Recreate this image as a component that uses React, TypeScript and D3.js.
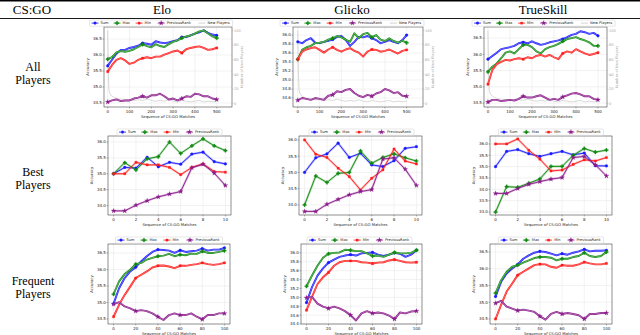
import * as d3 from "d3";

// x positions (match index) for each row
const allMatches = [0, 20, 40, 60, 80, 100, 120, 140, 160, 180, 200, 220, 240, 260, 280, 300, 320, 340, 360, 380, 400, 420, 440, 460, 480, 500];
const bestMatches = [0, 1, 2, 3, 4, 5, 6, 7, 8, 9, 10];
const freqMatches = [0, 5, 10, 15, 20, 25, 30, 35, 40, 45, 50, 55, 60, 65, 70, 75, 80, 85, 90, 95, 100];

const newPlayerMatches = [0, 3, 6, 10, 15, 20, 30, 40, 50, 60, 80, 100, 120, 140, 160, 180, 200, 220, 240, 260, 280, 300, 320, 340, 360, 380, 400, 420, 440, 460, 480, 500];
const newPlayerCounts = [100, 40, 18, 14, 11, 10, 8, 7, 6, 6, 5, 5, 4, 5, 4, 6, 4, 3, 4, 3, 5, 3, 2, 4, 3, 2, 3, 4, 2, 3, 2, 3];

// All players
const eloAllSum = [35.66, 35.85, 36.04, 36.16, 36.16, 36.22, 36.25, 36.29, 36.37, 36.35, 36.32, 36.43, 36.39, 36.37, 36.39, 36.43, 36.46, 36.56, 36.56, 36.61, 36.67, 36.71, 36.77, 36.69, 36.64, 36.61];
const eloAllMax = [35.87, 35.93, 36.08, 36.12, 36.10, 36.13, 36.18, 36.25, 36.33, 36.28, 36.24, 36.34, 36.28, 36.25, 36.34, 36.41, 36.46, 36.53, 36.58, 36.61, 36.67, 36.74, 36.77, 36.67, 36.58, 36.53];
const eloAllMin = [35.48, 35.69, 35.85, 35.90, 35.83, 35.72, 35.76, 35.85, 35.90, 35.93, 35.90, 35.95, 35.95, 36.01, 36.06, 36.11, 36.14, 36.06, 36.18, 36.22, 36.25, 36.27, 36.22, 36.16, 36.18, 36.22];
const eloAllPrev = [34.53, 34.58, 34.61, 34.56, 34.58, 34.58, 34.64, 34.67, 34.71, 34.67, 34.74, 34.74, 34.79, 34.71, 34.61, 34.64, 34.58, 34.64, 34.71, 34.69, 34.79, 34.77, 34.71, 34.71, 34.64, 34.61];

const glickoAllSum = [35.85, 35.82, 35.89, 35.93, 35.83, 35.82, 35.85, 35.87, 35.90, 35.96, 35.98, 35.89, 35.76, 35.85, 35.96, 35.95, 35.98, 35.93, 35.89, 35.82, 35.85, 35.89, 35.85, 35.82, 35.89, 36.00];
const glickoAllMax = [35.46, 35.67, 35.73, 35.76, 35.82, 35.83, 35.85, 35.90, 35.93, 35.98, 35.95, 35.90, 35.85, 36.04, 35.93, 36.02, 36.05, 35.95, 36.00, 35.90, 35.87, 35.93, 35.87, 35.83, 35.87, 35.83];
const glickoAllMin = [35.46, 35.63, 35.68, 35.71, 35.73, 35.67, 35.61, 35.68, 35.73, 35.67, 35.63, 35.68, 35.71, 35.65, 35.61, 35.52, 35.63, 35.68, 35.67, 35.63, 35.65, 35.68, 35.63, 35.59, 35.65, 35.67];
const glickoAllPrev = [34.55, 34.60, 34.58, 34.56, 34.60, 34.58, 34.56, 34.65, 34.67, 34.75, 34.73, 34.78, 34.80, 34.71, 34.65, 34.62, 34.67, 34.64, 34.70, 34.73, 34.80, 34.77, 34.71, 34.73, 34.65, 34.64];

const tsAllSum = [35.85, 35.95, 36.05, 36.16, 36.19, 36.22, 36.26, 36.34, 36.37, 36.34, 36.40, 36.34, 36.29, 36.32, 36.37, 36.40, 36.43, 36.47, 36.53, 36.60, 36.63, 36.71, 36.68, 36.63, 36.66, 36.57];
const tsAllMax = [35.46, 35.62, 35.72, 35.88, 36.05, 36.09, 36.03, 36.16, 36.29, 36.29, 36.22, 36.09, 36.03, 36.16, 36.22, 36.26, 36.32, 36.40, 36.47, 36.50, 36.53, 36.47, 36.43, 36.37, 36.26, 36.26];
const tsAllMin = [35.08, 35.52, 35.70, 35.77, 35.83, 35.81, 35.85, 35.88, 35.85, 35.91, 35.88, 35.95, 35.98, 35.93, 35.98, 35.91, 35.85, 36.03, 36.09, 36.05, 36.16, 36.09, 36.03, 35.98, 36.01, 36.05];
const tsAllPrev = [34.53, 34.60, 34.60, 34.56, 34.58, 34.60, 34.58, 34.63, 34.71, 34.67, 34.67, 34.71, 34.74, 34.67, 34.60, 34.63, 34.60, 34.69, 34.74, 34.79, 34.81, 34.77, 34.71, 34.71, 34.63, 34.60];

// Best players
const eloBestSum = [35.00, 35.20, 35.18, 35.52, 35.22, 35.36, 35.30, 35.62, 35.68, 35.38, 35.31];
const eloBestMax = [35.00, 35.35, 35.12, 35.47, 35.54, 36.00, 35.64, 35.88, 36.10, 35.88, 35.73];
const eloBestMin = [35.00, 35.00, 35.36, 35.28, 35.28, 35.20, 34.97, 35.20, 35.31, 35.07, 35.05];
const eloBestPrev = [33.83, 33.83, 34.01, 34.15, 34.27, 34.36, 34.44, 35.19, 35.30, 35.02, 34.63];

const glickoBestSum = [35.00, 35.45, 35.57, 35.90, 35.46, 35.59, 35.23, 35.18, 35.36, 35.74, 35.79];
const glickoBestMax = [34.00, 34.89, 34.69, 34.97, 35.00, 35.66, 35.28, 35.46, 35.57, 35.45, 35.35];
const glickoBestMin = [36.00, 35.56, 35.46, 35.13, 34.87, 34.46, 34.82, 35.08, 35.72, 35.35, 35.26];
const glickoBestPrev = [33.80, 33.80, 34.02, 34.17, 34.31, 34.41, 34.47, 35.41, 35.45, 35.10, 34.60];

const tsBestSum = [35.00, 35.67, 35.75, 35.57, 35.45, 35.57, 35.67, 35.52, 35.60, 35.04, 35.03];
const tsBestMax = [33.00, 34.12, 34.09, 34.27, 34.46, 35.01, 35.01, 35.50, 35.80, 35.64, 35.73];
const tsBestMin = [36.00, 36.00, 36.22, 35.72, 35.33, 34.81, 34.85, 35.10, 35.30, 35.25, 35.40];
const tsBestPrev = [33.82, 33.82, 34.04, 34.22, 34.34, 34.45, 34.52, 35.40, 35.45, 35.08, 34.59];

// Frequent players
const eloFreqSum = [34.96, 35.43, 35.74, 35.94, 36.07, 36.25, 36.40, 36.53, 36.60, 36.59, 36.57, 36.50, 36.58, 36.53, 36.55, 36.57, 36.63, 36.57, 36.60, 36.60, 36.65];
const eloFreqMax = [35.25, 35.64, 35.86, 35.99, 36.16, 36.20, 36.30, 36.35, 36.40, 36.42, 36.47, 36.40, 36.45, 36.43, 36.48, 36.47, 36.55, 36.50, 36.50, 36.53, 36.57];
const eloFreqMin = [34.57, 34.93, 35.23, 35.48, 35.74, 35.84, 35.94, 36.06, 36.11, 36.12, 36.09, 36.04, 36.11, 36.11, 36.14, 36.16, 36.20, 36.16, 36.14, 36.16, 36.20];
const eloFreqPrev = [34.95, 35.01, 34.88, 34.82, 34.74, 34.77, 34.74, 34.67, 34.57, 34.47, 34.62, 34.67, 34.62, 34.62, 34.67, 34.57, 34.49, 34.62, 34.62, 34.67, 34.67];

const glickoFreqSum = [34.88, 35.23, 35.49, 35.65, 35.78, 35.85, 35.91, 35.94, 35.96, 35.94, 35.99, 36.00, 36.01, 35.96, 35.93, 35.96, 36.00, 35.98, 35.91, 35.96, 36.06];
const glickoFreqMax = [35.25, 35.49, 35.71, 35.89, 35.98, 36.00, 36.01, 36.07, 36.06, 36.04, 36.04, 35.99, 35.93, 35.94, 35.91, 35.96, 36.01, 35.99, 35.99, 36.00, 36.06];
const glickoFreqMin = [34.71, 35.01, 35.30, 35.45, 35.56, 35.71, 35.79, 35.82, 35.82, 35.82, 35.79, 35.78, 35.76, 35.78, 35.79, 35.83, 35.85, 35.82, 35.79, 35.78, 35.79];
const glickoFreqPrev = [34.99, 35.01, 34.86, 34.79, 34.75, 34.79, 34.75, 34.69, 34.60, 34.48, 34.64, 34.69, 34.64, 34.66, 34.64, 34.59, 34.51, 34.66, 34.64, 34.68, 34.69];

const tsFreqSum = [35.17, 35.61, 35.86, 36.01, 36.13, 36.30, 36.40, 36.48, 36.52, 36.50, 36.45, 36.40, 36.45, 36.42, 36.48, 36.52, 36.58, 36.52, 36.54, 36.54, 36.55];
const tsFreqMax = [35.27, 35.66, 35.91, 36.06, 36.11, 36.18, 36.25, 36.32, 36.35, 36.35, 36.33, 36.25, 36.30, 36.30, 36.35, 36.38, 36.48, 36.38, 36.35, 36.38, 36.50];
const tsFreqMin = [34.50, 34.92, 35.32, 35.56, 35.81, 35.91, 36.01, 36.11, 36.14, 36.13, 36.06, 36.03, 36.11, 36.09, 36.09, 36.13, 36.20, 36.16, 36.13, 36.13, 36.16];
const tsFreqPrev = [34.97, 35.04, 34.87, 34.81, 34.75, 34.78, 34.75, 34.71, 34.58, 34.48, 34.65, 34.71, 34.65, 34.68, 34.65, 34.61, 34.50, 34.65, 34.65, 34.68, 34.68];

const allXTicks = [0, 100, 200, 300, 400, 500];
const bestXTicks = [0, 2, 4, 6, 8, 10];
const freqXTicks = [0, 20, 40, 60, 80, 100];
const newPlayerTicks = [0, 20, 40, 60, 80, 100];
const yTicksWide = [34.5, 35.0, 35.5, 36.0, 36.5];
const yTicksGlickoAll = [34.6, 34.8, 35.0, 35.2, 35.4, 35.6, 35.8, 36.0];
const yTicksBest = [34.0, 34.5, 35.0, 35.5, 36.0];
const yTicksTsBest = [33.0, 33.5, 34.0, 34.5, 35.0, 35.5, 36.0];
const yTicksGlickoFreq = [34.4, 34.6, 34.8, 35.0, 35.2, 35.4, 35.6, 35.8, 36.0];

const columns = ["Elo", "Glicko", "TrueSkill"];
const rowLabels = [["All", "Players"], ["Best", "Players"], ["Frequent", "Players"]];
const seriesNames = ["Sum", "Max", "Min", "PreviousRank"];

const seriesStyle = [
  { color: "#1a1aff", symbol: d3.symbolCircle, size: 6 },
  { color: "#108a10", symbol: d3.symbolCross, size: 7 },
  { color: "#ff1a1a", symbol: d3.symbolSquare, size: 5 },
  { color: "#8a1a8a", symbol: d3.symbolStar, size: 7 },
];

const SANS = "DejaVu Sans, sans-serif";
const SERIF = "Liberation Serif, 'Times New Roman', serif";
const newPlayerColor = "#c8c8c8";

interface PanelSpec {
  id: string;
  frame: [number, number, number, number];
  xs: number[];
  xDomain: [number, number];
  xTicks: number[];
  yDomain: [number, number];
  yTicks: number[];
  series: number[][];
  markAt: number[];
  legendW: number;
  legendShift: number;
  newPlayers?: boolean;
  doubled?: boolean;
}

const panels: PanelSpec[] = [
  { id: "a0", frame: [104, 232, 27, 107], xs: allMatches, xDomain: [-17, 570], xTicks: allXTicks, yDomain: [34.375, 36.875], yTicks: yTicksWide, series: [eloAllSum, eloAllMax, eloAllMin, eloAllPrev], markAt: [0, 160, 340, 500], legendW: 143, legendShift: -7, newPlayers: true, doubled: true },
  { id: "a1", frame: [293, 423, 27, 107], xs: allMatches, xDomain: [-22, 575], xTicks: allXTicks, yDomain: [34.4, 36.18], yTicks: yTicksGlickoAll, series: [glickoAllSum, glickoAllMax, glickoAllMin, glickoAllPrev], markAt: [0, 160, 340, 500], legendW: 144, legendShift: -6, newPlayers: true, doubled: true },
  { id: "a2", frame: [484, 607, 27, 107], xs: allMatches, xDomain: [-18, 541], xTicks: allXTicks, yDomain: [34.38, 36.84], yTicks: yTicksWide, series: [tsAllSum, tsAllMax, tsAllMin, tsAllPrev], markAt: [0, 160, 340, 500], legendW: 143, legendShift: -2, newPlayers: true, doubled: true },
  { id: "b0", frame: [108, 231, 136, 215], xs: bestMatches, xDomain: [-0.5, 10.5], xTicks: bestXTicks, yDomain: [33.7, 36.19], yTicks: yTicksBest, series: [eloBestSum, eloBestMax, eloBestMin, eloBestPrev], markAt: bestMatches, legendW: 105, legendShift: 0 },
  { id: "b1", frame: [299, 422, 136, 215], xs: bestMatches, xDomain: [-0.5, 10.5], xTicks: bestXTicks, yDomain: [33.69, 36.12], yTicks: yTicksBest, series: [glickoBestSum, glickoBestMax, glickoBestMin, glickoBestPrev], markAt: bestMatches, legendW: 105, legendShift: 1 },
  { id: "b2", frame: [490, 612, 136, 215], xs: bestMatches, xDomain: [-0.5, 10.5], xTicks: bestXTicks, yDomain: [32.87, 36.35], yTicks: yTicksTsBest, series: [tsBestSum, tsBestMax, tsBestMin, tsBestPrev], markAt: bestMatches, legendW: 105, legendShift: 0 },
  { id: "c0", frame: [108, 230, 244, 324], xs: freqMatches, xDomain: [-5, 105], xTicks: freqXTicks, yDomain: [34.35, 36.77], yTicks: yTicksWide, series: [eloFreqSum, eloFreqMax, eloFreqMin, eloFreqPrev], markAt: freqXTicks, legendW: 107, legendShift: 0, doubled: true },
  { id: "c1", frame: [301, 422, 244, 324], xs: freqMatches, xDomain: [-5, 105], xTicks: freqXTicks, yDomain: [34.4, 36.2], yTicks: yTicksGlickoFreq, series: [glickoFreqSum, glickoFreqMax, glickoFreqMin, glickoFreqPrev], markAt: freqXTicks, legendW: 105, legendShift: -2, doubled: true },
  { id: "c2", frame: [490, 612, 244, 324], xs: freqMatches, xDomain: [-5, 105], xTicks: freqXTicks, yDomain: [34.35, 36.74], yTicks: yTicksWide, series: [tsFreqSum, tsFreqMax, tsFreqMin, tsFreqPrev], markAt: freqXTicks, legendW: 105, legendShift: 0, doubled: true },
];

const fmt = d3.format(".1f");

function Marker({ x, y, i }: { x: number; y: number; i: number }) {
  const st = seriesStyle[i];
  const d = d3.symbol().type(st.symbol).size(st.size)() ?? "";
  return <path d={d} transform={`translate(${x},${y})`} fill={st.color} stroke={st.color} strokeWidth={0.3} />;
}

function Legend({ cx, top, width, withNew }: { cx: number; top: number; width: number; withNew?: boolean }) {
  const fs = 3.6;
  const items = seriesNames.map((name, i) => ({ name, i }));
  const all = withNew ? [...items, { name: "New Players", i: -1 }] : items;
  const handle = 7;
  const widths = all.map((it) => handle + 2 + it.name.length * fs * 0.58);
  const natural = d3.sum(widths);
  const gap = (width - 4 - natural) / (all.length - 1);
  const left = cx - width / 2;
  let pos = left + 2;
  const placed = all.map((it, k) => {
    const p = pos;
    pos += widths[k] + gap;
    return { ...it, x: p };
  });
  const h = 6.2;
  const my = top + h / 2;
  return (
    <g>
      <rect x={left} y={top} width={width} height={h} rx={0.8} fill="#fff" stroke="#cfcfcf" strokeWidth={0.5} />
      {placed.map((it) => (
        <g key={it.name}>
          <line x1={it.x} x2={it.x + handle} y1={my} y2={my} stroke={it.i < 0 ? newPlayerColor : seriesStyle[it.i].color} strokeWidth={0.8} />
          {it.i >= 0 ? <Marker x={it.x + handle / 2} y={my} i={it.i} /> : null}
          <text x={it.x + handle + 2} y={my + fs * 0.36} fontSize={fs} fontFamily={SANS} fill="#222">
            {it.name}
          </text>
        </g>
      ))}
    </g>
  );
}

function Panel({ spec }: { spec: PanelSpec }) {
  const [l, r, t, b] = spec.frame;
  const x = d3.scaleLinear().domain(spec.xDomain).range([l, r]);
  const y = d3.scaleLinear().domain(spec.yDomain).range([b, t]);
  const y2 = d3.scaleLinear().domain([-5, 105]).range([b, t]);
  const line = d3
    .line<number>()
    .x((_, i) => x(spec.xs[i]))
    .y((d) => y(d));
  const newLine = d3
    .line<number>()
    .x((_, i) => x(newPlayerMatches[i]))
    .y((d) => y2(d));
  const tickFs = 4;
  const clip = `clip-${spec.id}`;
  const markIdx = spec.xs.map((v, i) => (spec.markAt.includes(v) ? i : -1)).filter((i) => i >= 0);

  return (
    <g>
      <defs>
        <clipPath id={clip}>
          <rect x={l} y={t} width={r - l} height={b - t} />
        </clipPath>
      </defs>
      <rect x={l} y={t} width={r - l} height={b - t} fill="#fff" />
      {spec.xTicks.map((v) => (
        <line key={`gx${v}`} x1={x(v)} x2={x(v)} y1={t} y2={b} stroke="#e4e4e4" strokeWidth={0.5} />
      ))}
      {spec.yTicks.map((v) => (
        <line key={`gy${v}`} x1={l} x2={r} y1={y(v)} y2={y(v)} stroke="#e4e4e4" strokeWidth={0.5} />
      ))}
      <g clipPath={`url(#${clip})`}>
        {spec.newPlayers ? <path d={newLine(newPlayerCounts) ?? ""} fill="none" stroke={newPlayerColor} strokeWidth={0.7} /> : null}
        {spec.series.map((vals, i) => (
          <g key={i}>
            <path d={line(vals) ?? ""} fill="none" stroke={seriesStyle[i].color} strokeWidth={spec.doubled ? 1.9 : 2.2} strokeOpacity={spec.doubled ? 1 : 0.3} strokeLinejoin="round" />
            <path
              d={line(vals) ?? ""}
              fill="none"
              stroke={spec.doubled ? "#fff" : seriesStyle[i].color}
              strokeOpacity={spec.doubled ? 0.55 : 1}
              strokeWidth={spec.doubled ? 0.6 : 0.9}
              strokeLinejoin="round"
            />
            {markIdx.map((k) => (
              <Marker key={k} x={x(spec.xs[k])} y={y(vals[k])} i={i} />
            ))}
          </g>
        ))}
      </g>
      <rect x={l} y={t} width={r - l} height={b - t} fill="none" stroke="#444" strokeWidth={0.6} />
      {spec.xTicks.map((v) => (
        <g key={`tx${v}`}>
          <line x1={x(v)} x2={x(v)} y1={b} y2={b + 1.5} stroke="#444" strokeWidth={0.4} />
          <text x={x(v)} y={b + 5.6} fontSize={tickFs} textAnchor="middle" fontFamily={SANS} fill="#222">
            {v}
          </text>
        </g>
      ))}
      {spec.yTicks.map((v) => (
        <g key={`ty${v}`}>
          <line x1={l - 1.5} x2={l} y1={y(v)} y2={y(v)} stroke="#444" strokeWidth={0.4} />
          <text x={l - 2.2} y={y(v) + 1.4} fontSize={tickFs} textAnchor="end" fontFamily={SANS} fill="#222">
            {fmt(v)}
          </text>
        </g>
      ))}
      {spec.newPlayers
        ? newPlayerTicks.map((v) => (
            <g key={`tr${v}`}>
              <line x1={r} x2={r + 1.5} y1={y2(v)} y2={y2(v)} stroke="#aaa" strokeWidth={0.4} />
              <text x={r + 2} y={y2(v) + 1.3} fontSize={3.6} fontFamily={SANS} fill="#aaa">
                {v}
              </text>
            </g>
          ))
        : null}
      {spec.newPlayers ? (
        <text transform={`translate(${r + 11},${(t + b) / 2}) rotate(-90)`} fontSize={3.6} textAnchor="middle" fontFamily={SANS} fill="#aaa">
          Number of New Players
        </text>
      ) : null}
      <text x={(l + r) / 2} y={b + 10.6} fontSize={3.8} textAnchor="middle" fontFamily={SANS} fill="#222">
        Sequence of CS:GO Matches
      </text>
      <text transform={`translate(${l - 15},${(t + b) / 2}) rotate(-90)`} fontSize={3.8} textAnchor="middle" fontFamily={SANS} fill="#222">
        Accuracy
      </text>
      <Legend cx={(l + r) / 2 + spec.legendShift} top={t - 7} width={spec.legendW} withNew={spec.newPlayers} />
    </g>
  );
}

const colCenters = [162, 352, 543];
const rowBaselines = [71, 176, 285];

export default function App() {
  return (
    <svg width={640} height={335} style={{ position: "absolute", left: 0, top: 0, background: "#fff" }}>
      <rect width={640} height={335} fill="#fff" />
      <line x1={0} x2={640} y1={0.8} y2={0.8} stroke="#000" strokeWidth={1.6} />
      <line x1={0} x2={640} y1={18.5} y2={18.5} stroke="#000" strokeWidth={0.9} />
      <text x={32} y={14} fontSize={13} textAnchor="middle" fontFamily={SERIF}>
        CS:GO
      </text>
      {columns.map((c, i) => (
        <text key={c} x={colCenters[i]} y={14} fontSize={13} textAnchor="middle" fontFamily={SERIF}>
          {c}
        </text>
      ))}
      {rowLabels.map((lines, i) => (
        <text key={i} x={33} y={rowBaselines[i]} fontSize={12} textAnchor="middle" fontFamily={SERIF}>
          {lines.map((s, k) => (
            <tspan key={k} x={33} dy={k === 0 ? 0 : 12.5}>
              {s}
            </tspan>
          ))}
        </text>
      ))}
      {panels.map((p) => (
        <Panel key={p.id} spec={p} />
      ))}
    </svg>
  );
}
